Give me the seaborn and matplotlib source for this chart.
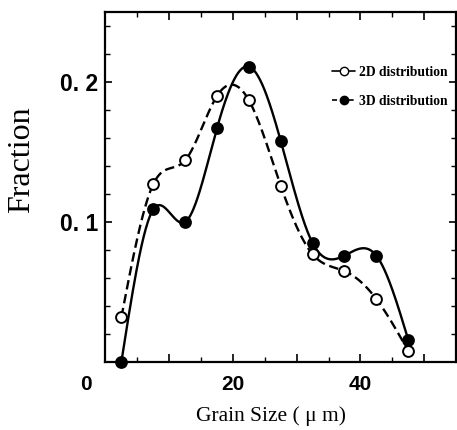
import numpy as np
import pandas as pd
import matplotlib
matplotlib.use("Agg")
import matplotlib.pyplot as plt
from matplotlib.lines import Line2D
import matplotlib.transforms as mtransforms
import seaborn as sns

# Bin centres (grain size, um) and measured fractions
grain_size = [2.5, 7.5, 12.5, 17.5, 22.5, 27.5, 32.5, 37.5, 42.5, 47.5]
frac_2d = [0.032, 0.127, 0.144, 0.190, 0.187, 0.126, 0.077, 0.065, 0.045, 0.008]
frac_3d = [0.000, 0.109, 0.100, 0.167, 0.211, 0.158, 0.085, 0.076, 0.076, 0.016]

series_names = ["2D distribution", "3D distribution"]
x_tick_values = [0, 10, 20, 30, 40, 50]
x_tick_labels = ["0", "", "20", "", "40", ""]
y_tick_values = [0.1, 0.2]
y_tick_labels = ["0. 1", "0. 2"]


def natural_spline(x, y, xs):
    """Natural cubic spline through (x, y) evaluated at xs."""
    x = np.asarray(x, float)
    y = np.asarray(y, float)
    n = len(x)
    h = np.diff(x)
    A = np.zeros((n, n))
    b = np.zeros(n)
    A[0, 0] = A[-1, -1] = 1.0
    for i in range(1, n - 1):
        A[i, i - 1] = h[i - 1]
        A[i, i] = 2 * (h[i - 1] + h[i])
        A[i, i + 1] = h[i]
        b[i] = 6 * ((y[i + 1] - y[i]) / h[i] - (y[i] - y[i - 1]) / h[i - 1])
    M = np.linalg.solve(A, b)
    idx = np.clip(np.searchsorted(x, xs) - 1, 0, n - 2)
    x0, x1 = x[idx], x[idx + 1]
    hh = x1 - x0
    t0 = x1 - xs
    t1 = xs - x0
    return (M[idx] * t0 ** 3 / (6 * hh) + M[idx + 1] * t1 ** 3 / (6 * hh)
            + (y[idx] / hh - M[idx] * hh / 6) * t0
            + (y[idx + 1] / hh - M[idx + 1] * hh / 6) * t1)


xs = np.linspace(grain_size[0], grain_size[-1], 400)
curves = pd.DataFrame({
    "size": np.concatenate([xs, xs]),
    "fraction": np.concatenate([natural_spline(grain_size, frac_2d, xs),
                                natural_spline(grain_size, frac_3d, xs)]),
    "series": np.repeat(series_names, len(xs)),
})
points = pd.DataFrame({
    "size": grain_size * 2,
    "fraction": frac_2d + frac_3d,
    "series": np.repeat(series_names, len(grain_size)),
})

sns.set_theme(style="ticks")
plt.rcParams["font.family"] = ["Liberation Serif", "DejaVu Serif"]
plt.rcParams["text.color"] = "black"
plt.rcParams["axes.labelcolor"] = "black"
plt.rcParams["xtick.color"] = "black"
plt.rcParams["ytick.color"] = "black"

fig = plt.figure(figsize=(4.57, 4.30), dpi=100)
ax = fig.add_axes([0.2307, 0.1581, 0.7671, 0.814])

lw = 1.7
sns.lineplot(data=curves[curves.series == series_names[0]], x="size", y="fraction",
             ax=ax, color="black", lw=lw, sort=False, estimator=None, legend=False)
ax.lines[-1].set_dashes((4.0, 2.0))
sns.lineplot(data=curves[curves.series == series_names[1]], x="size", y="fraction",
             ax=ax, color="black", lw=lw, sort=False, estimator=None, legend=False)

p2 = points[points.series == series_names[0]]
p3 = points[points.series == series_names[1]]
ax.plot(p2["size"], p2["fraction"], ls="none", marker="o", ms=7.8,
        mfc="white", mec="black", mew=1.4, clip_on=False, zorder=5)
ax.plot(p3["size"], p3["fraction"], ls="none", marker="o", ms=7.8,
        mfc="black", mec="black", mew=1.4, clip_on=False, zorder=5)

ax.set_xlim(0, 55)
ax.set_ylim(0, 0.25)

ax.set_xticks(x_tick_values)
ax.set_xticklabels(x_tick_labels)
ax.set_xticks(np.arange(0, 56, 5), minor=True)
ax.set_yticks(y_tick_values)
ax.set_yticklabels(y_tick_labels)
ax.set_yticks(np.arange(0.02, 0.25, 0.02), minor=True)

ax.tick_params(which="major", direction="in", length=6, width=1.2,
               top=True, right=True, pad=9, colors="black")
ax.tick_params(which="minor", direction="in", length=3.5, width=1.0,
               top=True, right=True, colors="black")
ax.tick_params(axis="y", which="major", length=5, pad=5)

for lab in ax.get_xticklabels() + ax.get_yticklabels():
    lab.set_fontfamily(["Liberation Sans Narrow", "Liberation Sans", "DejaVu Sans"])
    lab.set_fontweight("bold")
    lab.set_color("black")
for lab in ax.get_xticklabels():
    lab.set_fontsize(15)
for lab in ax.get_yticklabels():
    lab.set_fontsize(16.5)

# the "0" label sits to the left of the y axis line
zero = ax.get_xticklabels()[0]
zero.set_transform(zero.get_transform()
                   + mtransforms.ScaledTranslation(-19 / 100, 0, fig.dpi_scale_trans))

for sp in ax.spines.values():
    sp.set_linewidth(1.6)
    sp.set_color("black")

ax.set_xlabel("Grain Size ( \u03bc m)", fontsize=15.5, color="black")
ax.xaxis.set_label_coords(0.471, -0.125)
ax.set_ylabel("Fraction", fontsize=23, color="black")
ax.yaxis.set_label_coords(-0.197, 0.577)

handles = [
    Line2D([], [], color="black", lw=1.2, marker="o", ms=6, mfc="white", mec="black"),
    Line2D([], [], color="black", lw=1.2, ls=(0, (3, 2)), marker="o", ms=6,
           mfc="black", mec="black"),
]
ax.legend(handles, series_names, loc="upper right", bbox_to_anchor=(1.0, 0.87),
          frameon=False, handlelength=1.7, handletextpad=0.3,
          labelspacing=1.2, borderaxespad=0.2,
          prop={"family": ["Liberation Serif"], "weight": "bold", "size": 9.8})

fig.savefig("out.png", dpi=100)
